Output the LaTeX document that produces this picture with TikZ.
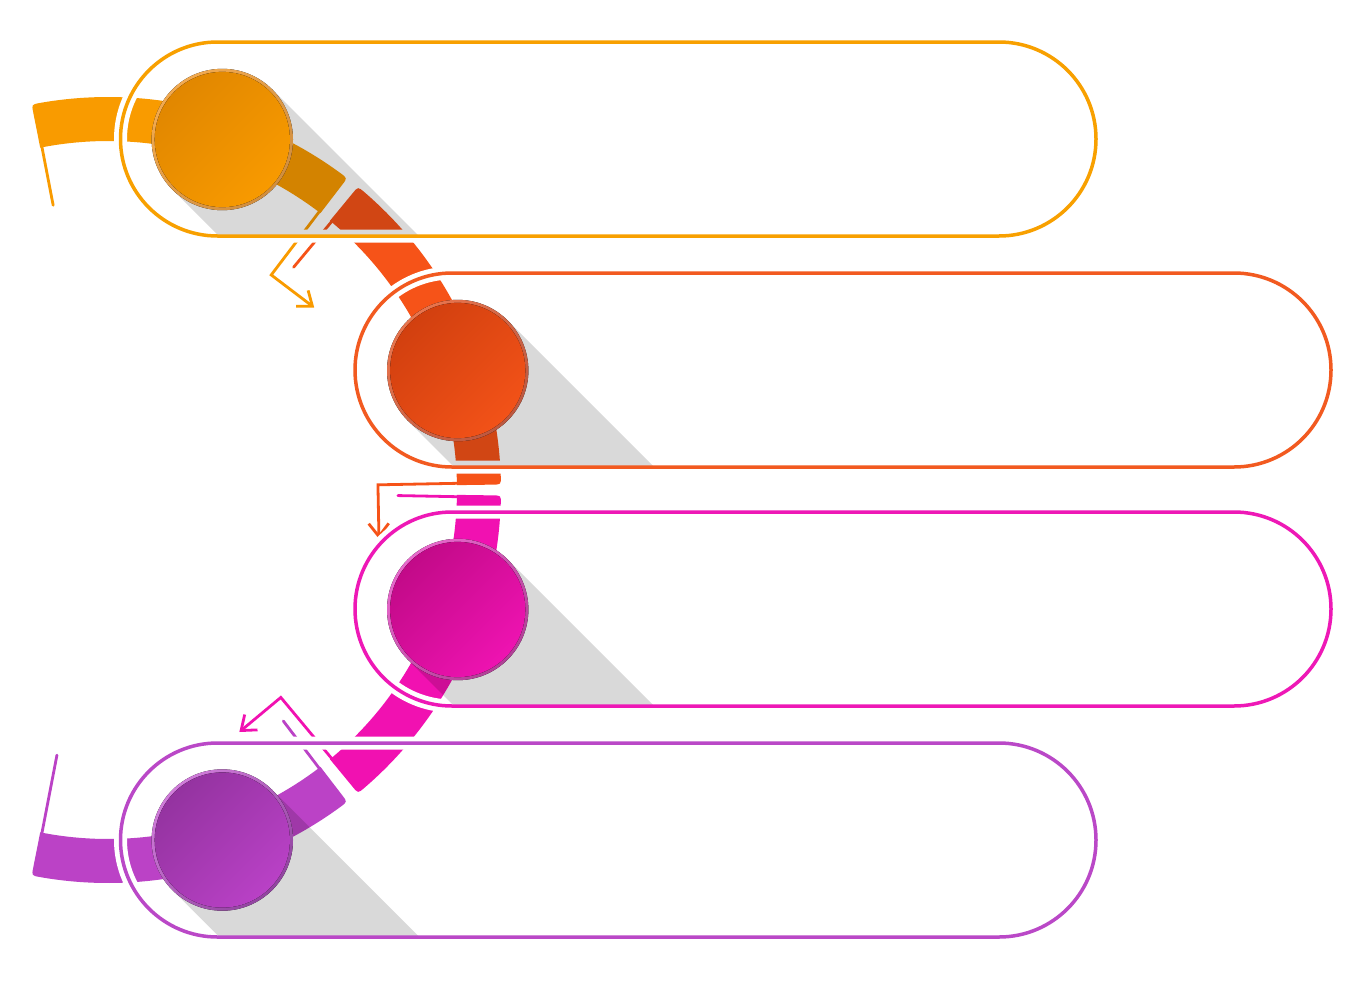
\documentclass[tikz,border=0pt]{standalone}
\usetikzlibrary{arrows.meta}
\definecolor{orB}{HTML}{F99B00}
\definecolor{orO}{HTML}{F8A000}
\definecolor{orD}{HTML}{E18700}
\definecolor{orL}{HTML}{F89A00}
\definecolor{orRL}{HTML}{F2AA50}
\definecolor{orRD}{HTML}{D08E40}
\definecolor{rdB}{HTML}{F65318}
\definecolor{rdO}{HTML}{F25A20}
\definecolor{rdD}{HTML}{D2400F}
\definecolor{rdL}{HTML}{F25218}
\definecolor{rdRL}{HTML}{E8754E}
\definecolor{rdRD}{HTML}{BC5840}
\definecolor{mgB}{HTML}{F111B1}
\definecolor{mgO}{HTML}{EE18B6}
\definecolor{mgD}{HTML}{C20A88}
\definecolor{mgL}{HTML}{EE13B1}
\definecolor{mgRL}{HTML}{E868CC}
\definecolor{mgRD}{HTML}{B04096}
\definecolor{puB}{HTML}{BB42C6}
\definecolor{puO}{HTML}{BA48C7}
\definecolor{puD}{HTML}{9433A0}
\definecolor{puL}{HTML}{B941C6}
\definecolor{puRL}{HTML}{D07CDA}
\definecolor{puRD}{HTML}{91449F}
\tikzset{
  thinline/.style={line width=2.8pt, line cap=round},
  arrowline/.style={line width=2.8pt, line cap=round, line join=miter, -{Straight Barb[length=13pt,width=20pt]}},
  halo/.style={white, line width=13pt},
  outline/.style={line width=3.5pt},
  shadowfill/.style={black, opacity=0.15},
}
\newcommand\pillshape[3]{(#1+97,-#3+97) -- (#2-97,-#3+97) arc[start angle=90,end angle=-90,radius=97] -- (#1+97,-#3-97) arc[start angle=270,end angle=90,radius=97] -- cycle}
\newcommand\bandseg[3]{%
  \pgfmathsetmacro\myA{#2}\pgfmathsetmacro\myB{#3}%
  \pgfmathsetmacro\myAi{#2-1.17}\pgfmathsetmacro\myBi{#3+1.17}%
  \fill[#1] (\myB:349) -- (\myB:385) .. controls (\myB:393) .. (\myBi:393)
    arc[start angle=\myBi, end angle=\myAi, radius=393]
    .. controls (\myA:393) .. (\myA:385) -- (\myA:349)
    arc[start angle=\myA, end angle=\myB, radius=349] -- cycle;}
\newcommand\castshadow[5]{%
  \begin{scope}
    \clip \pillshape{#1}{#2}{#3};
    \fill[shadowfill] (#4+50,-#5+50) -- (#4+450,-#5-350) -- (#4+350,-#5-450) -- (#4-50,-#5-50) -- cycle;
  \end{scope}}
\newcommand\disc[5]{%
  \fill[top color=#2, bottom color=#3, shading angle=45] (#1) circle[radius=70.7];
  \fill[top color=#4, bottom color=#5, shading angle=45] (#1) circle[radius=67.6];}
\begin{document}
\begin{tikzpicture}[x=1pt,y=1pt]
\useasboundingbox (0,0) rectangle (1362,-980);
\fill[white] (0,0) rectangle (1362,-980);
\coordinate (c1) at (222.3,-139.5);
\coordinate (c2) at (457.7,-370.5);
\coordinate (c3) at (457.7,-609.5);
\coordinate (c4) at (222.3,-840);
% bands and thin lines
\begin{scope}[shift={(108,-490)}]
  \bandseg{orB}{101.2}{52.5}
  \bandseg{rdB}{50.5}{0.8}
  \bandseg{mgB}{-0.8}{-50.5}
  \bandseg{puB}{-52.5}{-101.2}
  \draw[orB, thinline] (100.9:352) -- (100.9:290);
  \draw[orB, arrowline] (52.8:352) -- (52.8:270) -- ++(-37.2:54);
  \draw[rdB, thinline] (50.2:352) -- (50.2:290);
  \draw[rdB, arrowline] (1.1:352) -- (1.1:270) -- ++(-88.9:54);
  \draw[mgB, thinline] (-1.1:352) -- (-1.1:290);
  \draw[mgB, arrowline] (-50.2:352) -- (-50.2:270) -- ++(-140.2:54);
  \draw[puB, thinline] (-52.8:352) -- (-52.8:290);
  \draw[puB, thinline] (-100.9:352) -- (-100.9:270);
\end{scope}
% halos
\draw[halo] \pillshape{120.5}{1096}{139};
\draw[halo] \pillshape{355}{1331}{370};
\draw[halo] \pillshape{355}{1331}{609};
\draw[halo] \pillshape{120.5}{1096}{840};
% shadows
\castshadow{120.5}{1096}{139}{222.3}{139.5}
\castshadow{355}{1331}{370}{457.7}{370.5}
\castshadow{355}{1331}{609}{457.7}{609.5}
\castshadow{120.5}{1096}{840}{222.3}{840}
% outlines
\draw[orO, outline] \pillshape{120.5}{1096}{139};
\draw[rdO, outline] \pillshape{355}{1331}{370};
\draw[mgO, outline] \pillshape{355}{1331}{609};
\draw[puO, outline] \pillshape{120.5}{1096}{840};
% circles
\disc{c1}{orRL}{orRD}{orD}{orL}
\disc{c2}{rdRL}{rdRD}{rdD}{rdL}
\disc{c3}{mgRL}{mgRD}{mgD}{mgL}
\disc{c4}{puRL}{puRD}{puD}{puL}
\end{tikzpicture}
\end{document}
